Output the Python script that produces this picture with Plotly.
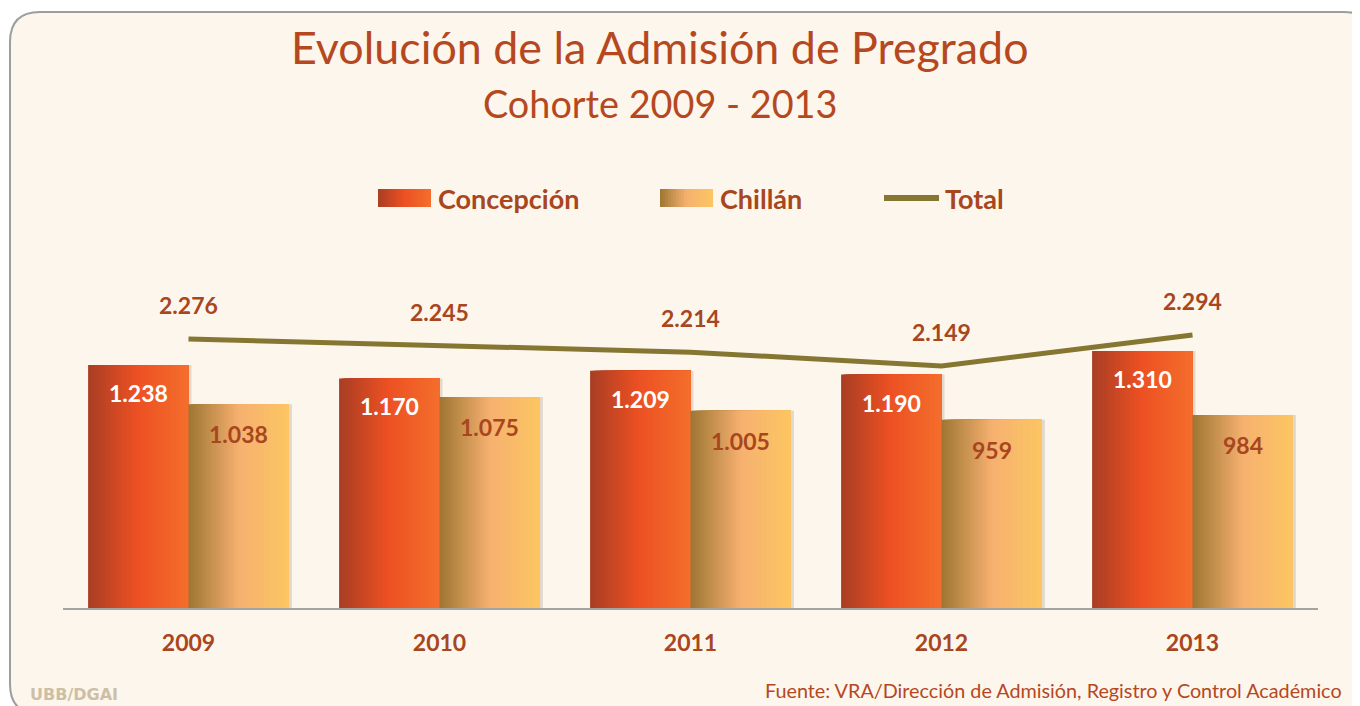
import plotly.graph_objects as go

# ---------------- data ----------------
years = ["2009", "2010", "2011", "2012", "2013"]
concepcion = [1238, 1170, 1209, 1190, 1310]
chillan = [1038, 1075, 1005, 959, 984]
total = [2276, 2245, 2214, 2149, 2294]

concepcion_labels = ["1.238", "1.170", "1.209", "1.190", "1.310"]
chillan_labels = ["1.038", "1.075", "1.005", "959", "984"]
total_labels = ["2.276", "2.245", "2.214", "2.149", "2.294"]

title_text = "Evolución de la Admisión de Pregrado"
subtitle_text = "Cohorte 2009 - 2013"
source_text = "Fuente: VRA/Dirección de Admisión, Registro y Control Académico"
logo_text = "UBB/DGAI"
series_names = ["Concepción", "Chillán", "Total"]

# ---------------- style ----------------
OFF = 8                      # page body margin of the exported html
W, H = 1360 - OFF, 706 - OFF
FONT = "Lato"
TITLE_COLOR = "#B5481F"
LABEL_COLOR = "#A8461E"
LINE_COLOR = "#857632"

conc_stops = [(0.0, (168, 62, 36)), (0.48, (236, 80, 35)), (1.0, (244, 110, 44))]
chil_stops = [(0.0, (158, 118, 50)), (0.5, (246, 176, 112)), (1.0, (252, 198, 98))]


def grad(stops, t):
    for (t0, c0), (t1, c1) in zip(stops[:-1], stops[1:]):
        if t0 <= t <= t1:
            f = (t - t0) / (t1 - t0) if t1 > t0 else 0
            c = [round(a + (b - a) * f) for a, b in zip(c0, c1)]
            return "rgb(%d,%d,%d)" % tuple(c)
    return "rgb(%d,%d,%d)" % stops[-1][1]


def px(x):
    return (x - OFF) / W


def py(y):
    return 1 - (y - OFF) / H


BAR_W = 0.4
N = 40
UNIT = 1255 / 5             # pixels per category

fig = go.Figure()

# soft shadows on the right of the bars
for values, start in [(concepcion, -BAR_W), (chillan, 0.0)]:
    fig.add_trace(go.Bar(
        x=years, y=values, offset=start + 3 / UNIT, width=BAR_W,
        marker=dict(color="rgba(90,70,50,0.16)", line=dict(width=0)),
        showlegend=False, hoverinfo="skip",
    ))

# gradient bars built from nested slices (each slice runs to the bar's right edge)
for values, stops, start, name in [
    (concepcion, conc_stops, -BAR_W, series_names[0]),
    (chillan, chil_stops, 0.0, series_names[1]),
]:
    sw = BAR_W / N
    for i in range(N):
        fig.add_trace(go.Bar(
            x=years, y=values, name=name,
            offset=start + i * sw, width=BAR_W - i * sw,
            marker=dict(color=grad(stops, (i + 0.5) / N), line=dict(width=0)),
            showlegend=False, hoverinfo="skip", yaxis="y",
        ))

fig.add_trace(go.Scatter(
    x=years, y=total, name=series_names[2], mode="lines",
    line=dict(color=LINE_COLOR, width=5), yaxis="y2", showlegend=False,
))

ann = []
for i, (v, t) in enumerate(zip(concepcion, concepcion_labels)):
    ann.append(dict(x=i, y=v, xref="x", yref="y", text="<b>%s</b>" % t,
                    showarrow=False, xshift=-50, yshift=-28,
                    font=dict(family=FONT, size=23, color="white")))
for i, (v, t) in enumerate(zip(chillan, chillan_labels)):
    ann.append(dict(x=i, y=v, xref="x", yref="y", text="<b>%s</b>" % t,
                    showarrow=False, xshift=50, yshift=-30,
                    font=dict(family=FONT, size=23, color=LABEL_COLOR)))
for i, (v, t) in enumerate(zip(total, total_labels)):
    ann.append(dict(x=i, y=v, xref="x", yref="y2", text="<b>%s</b>" % t,
                    showarrow=False, yshift=34,
                    font=dict(family=FONT, size=23, color=LABEL_COLOR)))

# titles and footer
ann.append(dict(x=px(660), y=py(47), xref="paper", yref="paper", text=title_text,
                showarrow=False, xanchor="center", yanchor="middle",
                font=dict(family=FONT, size=44.8, color=TITLE_COLOR)))
ann.append(dict(x=px(660), y=py(104), xref="paper", yref="paper", text=subtitle_text,
                showarrow=False, xanchor="center", yanchor="middle",
                font=dict(family=FONT, size=37.8, color=TITLE_COLOR)))
ann.append(dict(x=px(1344), y=py(690), xref="paper", yref="paper", text=source_text,
                showarrow=False, xanchor="right", yanchor="middle",
                font=dict(family=FONT, size=19.8, color=TITLE_COLOR)))
ann.append(dict(x=px(28), y=py(694), xref="paper", yref="paper", text="<b>%s</b>" % logo_text,
                showarrow=False, xanchor="left", yanchor="middle",
                font=dict(family="DejaVu Sans", size=16, color="#CDBFA5")))

# manual legend
shapes = []
for (x0, x1), stops in [((378, 431), conc_stops), ((660, 713), chil_stops)]:
    n = 20
    for i in range(n):
        a = x0 + (x1 - x0) * i / n
        shapes.append(dict(type="rect", xref="paper", yref="paper",
                           x0=px(a), x1=px(x1), y0=py(207), y1=py(189),
                           fillcolor=grad(stops, (i + 0.5) / n), line=dict(width=0)))
shapes.append(dict(type="line", xref="paper", yref="paper",
                   x0=px(884), x1=px(939), y0=py(198), y1=py(198),
                   line=dict(color=LINE_COLOR, width=6)))
for xx, t in [(436, series_names[0]), (718, series_names[1]), (943, series_names[2])]:
    ann.append(dict(x=px(xx), y=py(198), xref="paper", yref="paper", text="<b>%s</b>" % t,
                    showarrow=False, xanchor="left", yanchor="middle",
                    font=dict(family=FONT, size=27, color=LABEL_COLOR)))

# rounded slide border
L, T, R, B, r = 10, 12, 1374, 714, 30
path = (
    f"M {px(L + r)},{py(T)} L {px(R - r)},{py(T)} Q {px(R)},{py(T)} {px(R)},{py(T + r)} "
    f"L {px(R)},{py(B - r)} Q {px(R)},{py(B)} {px(R - r)},{py(B)} "
    f"L {px(L + r)},{py(B)} Q {px(L)},{py(B)} {px(L)},{py(B - r)} "
    f"L {px(L)},{py(T + r)} Q {px(L)},{py(T)} {px(L + r)},{py(T)} Z"
)
shapes.insert(0, dict(type="path", xref="paper", yref="paper", path=path,
                      fillcolor="#FDF6EC", line=dict(color="#9E9E9E", width=2), layer="below"))

fig.update_layout(
    width=W, height=H,
    margin=dict(l=0, r=0, t=0, b=0, autoexpand=False),
    paper_bgcolor="white", plot_bgcolor="rgba(0,0,0,0)",
    barmode="overlay",
    showlegend=False,
    annotations=ann, shapes=shapes,
    xaxis=dict(domain=[px(63), px(1318)], type="category", showgrid=False,
               range=[-0.5, len(years) - 0.5],
               showline=True, linecolor="#A3A3A3", linewidth=2, ticks="",
               ticklabelstandoff=13,
               tickfont=dict(family=FONT, size=23, color=LABEL_COLOR, weight="bold"),
               zeroline=False, fixedrange=True),
    yaxis=dict(domain=[py(608), py(250)], range=[0, 358 / 0.1962], visible=False,
               showgrid=False, zeroline=False),
    yaxis2=dict(domain=[py(608), py(250)], range=[1014, 2693], visible=False,
                overlaying="y", showgrid=False, zeroline=False),
)

fig.write_html("out.html")
